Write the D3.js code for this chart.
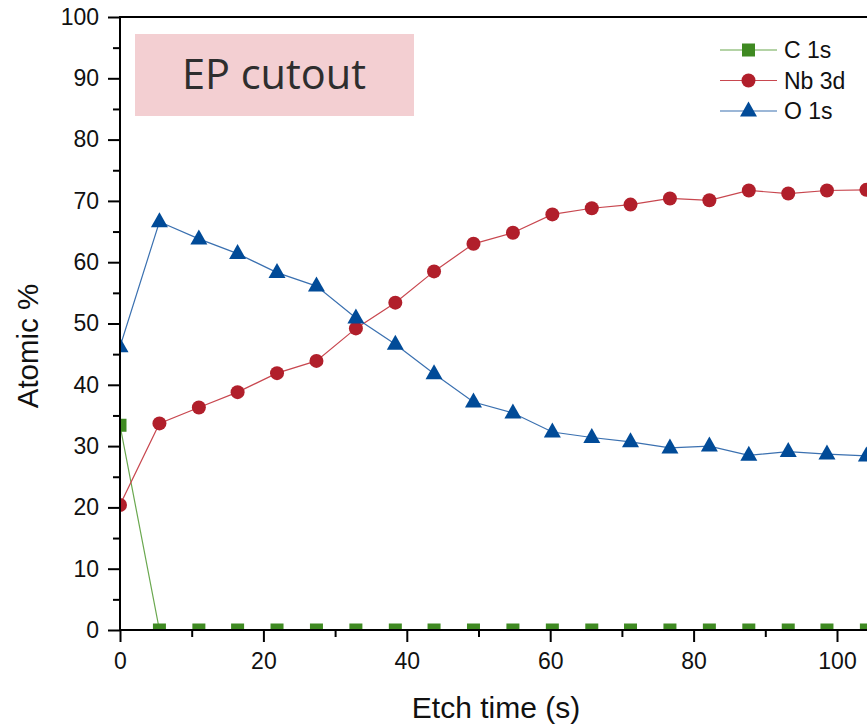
<!DOCTYPE html>
<html>
<head>
<meta charset="utf-8">
<script src="https://cdn.jsdelivr.net/npm/d3@7"></script>
<style>
  body { margin: 0; background: #fff; }
  text { font-family: "Liberation Sans", Arial, sans-serif; fill: #111; }
</style>
</head>
<body>
<svg id="chart" width="867" height="726"></svg>
<script>
// etch time (s)
var etchTime = [0, 5.5, 11, 16.4, 21.9, 27.4, 32.9, 38.4, 43.8, 49.3, 54.8, 60.3, 65.8, 71.2, 76.7, 82.2, 87.7, 93.2, 98.6, 104.1];
var c1s  = [33.4, 0, 0, 0, 0, 0, 0, 0, 0, 0, 0, 0, 0, 0, 0, 0, 0, 0, 0, 0];
var nb3d = [20.4, 33.7, 36.3, 38.8, 41.9, 43.9, 49.2, 53.4, 58.5, 63.0, 64.8, 67.8, 68.8, 69.4, 70.4, 70.1, 71.7, 71.2, 71.7, 71.8];
var o1s  = [46.2, 66.6, 63.8, 61.4, 58.3, 56.1, 50.9, 46.6, 41.8, 37.2, 35.4, 32.3, 31.4, 30.7, 29.7, 30.0, 28.5, 29.1, 28.7, 28.4];
var seriesNames = ["C 1s", "Nb 3d", "O 1s"];
var yTicks = [0, 10, 20, 30, 40, 50, 60, 70, 80, 90, 100];
var xTicks = [0, 20, 40, 60, 80, 100];

function draw() {
  var svg = d3.select("#chart");
  var pLeft = 120, pTop = 17, pBottom = 630, pRight = 867;

  var x = d3.scaleLinear().domain([0, 100]).range([pLeft, 837]);
  var y = d3.scaleLinear().domain([0, 100]).range([pBottom, pTop]);

  var series = [
    {name: seriesNames[0], vals: c1s,  col: "#3f8a22", line: "#6aa84f", shape: "square"},
    {name: seriesNames[1], vals: nb3d, col: "#b11f2b", line: "#c8474f", shape: "circle"},
    {name: seriesNames[2], vals: o1s,  col: "#014b98", line: "#3a70b0", shape: "triangle"}
  ];

  svg.append("clipPath").attr("id", "plotclip")
    .append("rect").attr("x", pLeft).attr("y", pTop)
    .attr("width", pRight - pLeft).attr("height", pBottom - pTop);

  // label box
  svg.append("rect")
    .attr("x", 135).attr("y", 34).attr("width", 279).attr("height", 82)
    .attr("fill", "#f3cfd2");
  svg.append("text")
    .attr("x", 274).attr("y", 89)
    .attr("text-anchor", "middle")
    .style("font-family", "'Open Sans', sans-serif")
    .style("font-size", "41.5px")
    .style("fill", "#2e2e2e")
    .text("EP cutout");

  function marker(g, shape, col) {
    if (shape == "square") {
      return g.append("rect").attr("x", -6.5).attr("y", -6.5)
        .attr("width", 13).attr("height", 13).attr("fill", col);
    } else if (shape == "circle") {
      return g.append("circle").attr("r", 7).attr("fill", col);
    } else {
      return g.append("path").attr("d", "M0,-9.5L8.5,5.5L-8.5,5.5Z").attr("fill", col);
    }
  }

  var plot = svg.append("g").attr("clip-path", "url(#plotclip)");

  series.forEach(function(s) {
    var pts = s.vals.map(function(v, i) { return [etchTime[i], v]; });
    plot.append("path")
      .datum(pts)
      .attr("fill", "none")
      .attr("stroke", s.line)
      .attr("stroke-width", 1.2)
      .attr("d", d3.line().x(function(d) { return x(d[0]); }).y(function(d) { return y(d[1]); }));
  });

  series.forEach(function(s) {
    s.vals.forEach(function(v, i) {
      var g = plot.append("g").attr("transform", "translate(" + x(etchTime[i]) + "," + y(v) + ")");
      marker(g, s.shape, s.col);
    });
  });

  // axes
  var yAxis = svg.append("g").attr("transform", "translate(" + pLeft + ",0)")
    .call(d3.axisLeft(y).tickValues(yTicks).tickSize(12).tickPadding(9).tickSizeOuter(0));
  var yMinor = svg.append("g").attr("transform", "translate(" + pLeft + ",0)")
    .call(d3.axisLeft(y).tickValues(d3.range(5, 100, 10)).tickSize(7).tickFormat("").tickSizeOuter(0));
  var xAxis = svg.append("g").attr("transform", "translate(0," + pBottom + ")")
    .call(d3.axisBottom(x).tickValues(xTicks).tickSize(12).tickPadding(11).tickSizeOuter(0));
  var xMinor = svg.append("g").attr("transform", "translate(0," + pBottom + ")")
    .call(d3.axisBottom(x).tickValues(d3.range(10, 110, 20)).tickSize(7).tickFormat("").tickSizeOuter(0));

  [yAxis, yMinor, xAxis, xMinor].forEach(function(a) {
    a.selectAll("line").attr("stroke", "#000").attr("stroke-width", 2);
    a.select(".domain").remove();
    a.selectAll("text").style("font-size", "23px").style("fill", "#111")
      .style("font-family", "'Liberation Sans', Arial, sans-serif");
  });

  svg.append("line").attr("x1", pLeft).attr("x2", pLeft).attr("y1", pTop - 1).attr("y2", pBottom + 1)
    .attr("stroke", "#000").attr("stroke-width", 2);
  svg.append("line").attr("x1", pLeft - 1).attr("x2", pRight).attr("y1", pBottom).attr("y2", pBottom)
    .attr("stroke", "#000").attr("stroke-width", 2);
  svg.append("line").attr("x1", pLeft - 1).attr("x2", pRight).attr("y1", pTop).attr("y2", pTop)
    .attr("stroke", "#000").attr("stroke-width", 2);

  // axis titles
  svg.append("text")
    .attr("transform", "translate(38,346) rotate(-90)")
    .attr("text-anchor", "middle")
    .style("font-size", "29.5px")
    .text("Atomic %");
  svg.append("text")
    .attr("x", 496).attr("y", 718)
    .attr("text-anchor", "middle")
    .style("font-size", "30px")
    .text("Etch time (s)");

  // legend
  var legend = svg.append("g");
  series.forEach(function(s, i) {
    var ly = 50 + i * 30.5;
    legend.append("line").attr("x1", 720).attr("x2", 777).attr("y1", ly).attr("y2", ly)
      .attr("stroke", s.line).attr("stroke-width", 1.2);
    var g = legend.append("g").attr("transform", "translate(748.5," + ly + ")");
    marker(g, s.shape, s.col);
    legend.append("text").attr("x", 784).attr("y", ly + 8)
      .style("font-size", "23px").text(s.name);
  });
}

draw();
</script>
</body>
</html>
